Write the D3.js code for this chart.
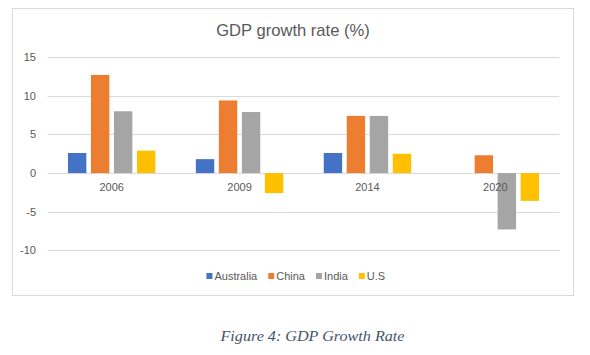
<!DOCTYPE html>
<html>
<head>
<meta charset="utf-8">
<script src="https://cdn.jsdelivr.net/npm/d3@7"></script>
<style>
  html, body { margin: 0; padding: 0; background: #ffffff; }
  svg { display: block; }
</style>
</head>
<body>
<svg id="chart" width="590" height="355"></svg>
<script>
const categories = ["2006", "2009", "2014", "2020"];
const seriesNames = ["Australia", "China", "India", "U.S"];
const australia = [2.6, 1.8, 2.6, null];
const china = [12.7, 9.4, 7.4, 2.3];
const india = [8.0, 7.9, 7.4, -7.3];
const us = [2.9, -2.6, 2.5, -3.6];
const yTicks = [-10, -5, 0, 5, 10, 15];
const colors = ["#4472C4", "#ED7D31", "#A5A5A5", "#FFC000"];
const titleText = "GDP growth rate (%)";
const captionText = "Figure 4: GDP Growth Rate";

const seriesValues = [australia, china, india, us];
const rows = [];
categories.forEach((c, i) => {
  seriesNames.forEach((s, j) => {
    if (seriesValues[j][i] !== null) rows.push({ cat: c, series: s, value: seriesValues[j][i] });
  });
});

const svg = d3.select("#chart");
const font = "'Liberation Sans', Arial, sans-serif";
const textColor = "#595959";

// chart frame
svg.append("rect")
  .attr("x", 12.5).attr("y", 8.5).attr("width", 561).attr("height", 287)
  .attr("fill", "#ffffff").attr("stroke", "#d9d9d9").attr("stroke-width", 1);

// title
svg.append("text")
  .attr("x", 293).attr("y", 35.5)
  .attr("text-anchor", "middle")
  .attr("font-family", font).attr("font-size", 16.6)
  .attr("fill", textColor)
  .text(titleText);

const plotLeft = 47.7, plotRight = 559.3;
const y = d3.scaleLinear().domain([-10, 15]).range([250.3, 57.2]);
const x0 = d3.scaleBand().domain(categories).range([plotLeft, plotRight]).paddingInner(0).paddingOuter(0);
const x1 = d3.scaleBand().domain(seriesNames).range([0, x0.bandwidth()]).paddingInner(0.2).paddingOuter(0.88);
const color = d3.scaleOrdinal().domain(seriesNames).range(colors);

// gridlines
svg.append("g").selectAll("line").data(yTicks).join("line")
  .attr("x1", plotLeft).attr("x2", plotRight)
  .attr("y1", d => Math.round(y(d)) + 0.5).attr("y2", d => Math.round(y(d)) + 0.5)
  .attr("stroke", "#d9d9d9").attr("stroke-width", 1);

// y axis labels
const yAxis = d3.axisLeft(y).tickValues(yTicks).tickSize(0).tickPadding(0).tickFormat(d => String(d));
const yg = svg.append("g").attr("transform", "translate(36,0)").call(yAxis);
yg.select(".domain").remove();
yg.selectAll("text")
  .attr("font-family", font).attr("font-size", 11).attr("fill", textColor);

// bars
svg.append("g").selectAll("rect").data(rows).join("rect")
  .attr("x", d => x0(d.cat) + x1(d.series))
  .attr("width", x1.bandwidth())
  .attr("y", d => y(Math.max(0, d.value)))
  .attr("height", d => Math.abs(y(d.value) - y(0)))
  .attr("fill", d => color(d.series));

// category labels (drawn over bars like Excel)
const xAxis = d3.axisBottom(x0).tickSize(0).tickPadding(0);
const xg = svg.append("g").attr("transform", `translate(0,${y(0)})`).call(xAxis);
xg.select(".domain").remove();
xg.selectAll("text")
  .attr("y", 0).attr("dy", 0)
  .attr("transform", "translate(0,18)")
  .attr("font-family", font).attr("font-size", 11).attr("fill", textColor);

// legend
const legend = svg.append("g");
const items = legend.selectAll("g").data(seriesNames).join("g");
items.append("rect").attr("width", 6).attr("height", 6).attr("y", 273).attr("fill", d => color(d));
items.append("text").attr("x", 8).attr("y", 280)
  .attr("font-family", font).attr("font-size", 11).attr("fill", textColor)
  .text(d => d);
let widths = [];
items.each(function () { widths.push(d3.select(this).select("text").node().getComputedTextLength()); });
const gap = 11;
const total = widths.reduce((a, w) => a + 8 + w, 0) + gap * (widths.length - 1);
let cx = 295.8 - total / 2;
items.each(function (d, i) {
  d3.select(this).attr("transform", `translate(${cx},0)`);
  cx += 8 + widths[i] + gap;
});

// caption
svg.append("text")
  .attr("x", 312.5).attr("y", 340.5)
  .attr("text-anchor", "middle")
  .attr("font-family", "'Liberation Serif', 'DejaVu Serif', serif")
  .attr("font-style", "italic")
  .attr("font-size", 14)
  .attr("fill", "#44546A")
  .attr("textLength", 184).attr("lengthAdjust", "spacingAndGlyphs")
  .text(captionText);
</script>
</body>
</html>
